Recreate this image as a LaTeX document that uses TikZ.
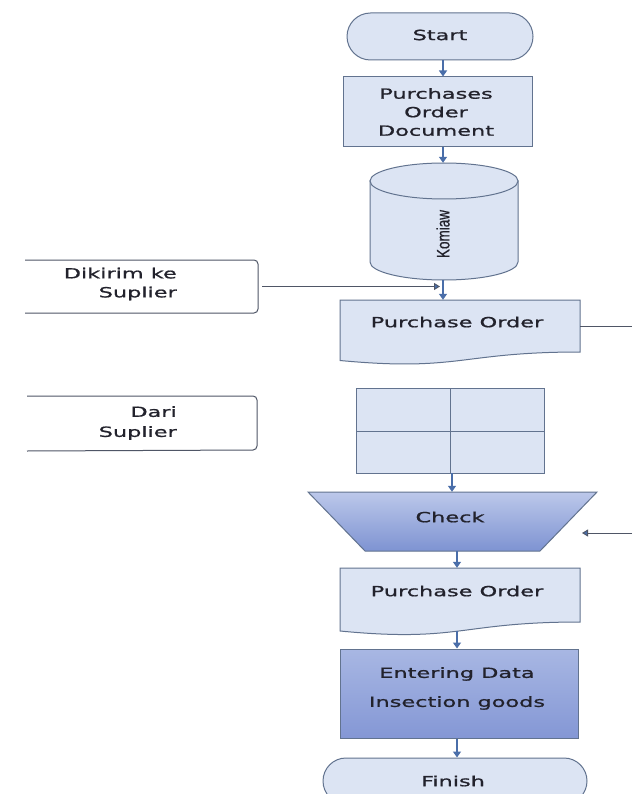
\documentclass[tikz,border=0pt]{standalone}
\usepackage{fontspec}
\newfontfamily\wf[FakeStretch=1.6,FakeBold=1]{DejaVu Sans}
\newfontfamily\nf[FakeStretch=0.75,FakeBold=0.6]{Liberation Sans}
\usetikzlibrary{arrows.meta,shapes.misc}
\definecolor{fillb}{HTML}{DCE4F3}
\definecolor{edge}{HTML}{62738F}
\definecolor{arrb}{HTML}{4A6EA9}
\definecolor{txt}{HTML}{22222C}
\definecolor{gtop}{HTML}{BCC8EA}
\definecolor{gbot}{HTML}{7E93D2}
\definecolor{etop}{HTML}{A8B7E3}
\definecolor{ebot}{HTML}{8497D5}
\definecolor{lined}{HTML}{4F5666}
\begin{document}
\begin{tikzpicture}[x=1pt,y=-1pt,
  lbl/.style={font=\wf\fontsize{14}{18.5}\selectfont, text=txt, inner sep=0pt, align=center},
  shp/.style={draw=edge, line width=1pt, fill=fillb},
  pill/.style={shp, rounded rectangle, inner sep=0pt},
  ghost/.style={inner sep=0pt, minimum width=#1},
  arr/.style={draw=arrb, line width=1.3pt, -{Triangle[width=8pt,length=6pt]}},
  conn/.style={draw=lined, line width=0.9pt},
  conntip/.style={conn, -{Triangle[width=7pt,length=6pt,fill=arrb]}},
  offp/.style={draw=lined, line width=1pt, rounded corners=4pt, fill=white}
]
\useasboundingbox[fill=white] (0,0) rectangle (632,794);
\clip (0,0) rectangle (632,794);

% column coordinates
\coordinate (colA) at (443,0);
\coordinate (colB) at (452,0);
\coordinate (colC) at (457,0);

% Start
\node[pill, minimum width=186pt, minimum height=47pt] (start) at (440,36.5) {};
\node[lbl] (startt) at (440,35) {Start};

% Purchases Order Document
\node[shp, minimum width=189pt, minimum height=70pt, inner sep=0pt] (pod) at (437.5,112) {};
\node[lbl] (podt) at (436,112) {Purchases\\Order\\Document};

% Cylinder Komiaw
\path[shp] (370,181) -- (370,262) .. controls (370,271.94) and (403.13,280) .. (444,280)
  .. controls (484.87,280) and (518,271.94) .. (518,262) -- (518,181) -- cycle;
\draw[shp] (444,181) ellipse [x radius=74, y radius=18];
\node[ghost=148pt, minimum height=117pt] (cyl) at (444,221.5) {};
\node[font=\nf\fontsize{18}{20}\selectfont, text=txt, rotate=90, inner sep=0pt] (cylt) at (443,234) {Komiaw};

% Purchase Order 1 (document)
\draw[shp] (340,300) -- (580,300) -- (580,352) .. controls (460,352) and (460,371.8) .. (340,360.5) -- cycle;
\node[ghost=240pt, minimum height=62pt] (po1) at (460,331) {};
\node[lbl] (po1t) at (457,322) {Purchase Order};

% Dikirim ke Suplier
\draw[offp] (25,260) -- (258,260) -- (258,313) -- (25,313);
\node[ghost=233pt, minimum height=53pt] (dik) at (141.5,286.5) {};
\node[lbl, align=right, anchor=east, font=\wf\fontsize{14}{19}\selectfont] (dikt) at (177,284) {Dikirim ke\\Suplier};

% Dari Suplier
\draw[offp] (27,396) -- (257,396) -- (257,450) -- (27,451);
\node[ghost=230pt, minimum height=55pt] (dari) at (142,423) {};
\node[lbl, align=right, anchor=east, font=\wf\fontsize{14}{20}\selectfont] (darit) at (177,423) {Dari\\Suplier};

% Grid (internal storage)
\draw[shp] (356,388) rectangle (544,473);
\draw[draw=edge, line width=1pt] (450,388) -- (450,473) (356,431) -- (544,431);
\node[ghost=188pt, minimum height=85pt] (grid) at (450,430.5) {};

% Check (manual operation)
\path[top color=gtop, bottom color=gbot, draw=edge, line width=1pt]
  (308,492) -- (597,492) -- (540,551) -- (365,551) -- cycle;
\node[ghost=289pt, minimum height=59pt] (check) at (452.5,521.5) {};
\node[lbl] (checkt) at (450,517) {Check};

% Purchase Order 2 (document)
\draw[shp] (340,568) -- (580,568) -- (580,622) .. controls (460,622) and (460,642.6) .. (340,631) -- cycle;
\node[ghost=240pt, minimum height=63pt] (po2) at (460,599.5) {};
\node[lbl] (po2t) at (457,591) {Purchase Order};

% Entering Data
\node[draw=edge, line width=1pt, top color=etop, bottom color=ebot, minimum width=238pt, minimum height=89pt, inner sep=0pt] (enter) at (459,693.5) {};
\node[lbl, font=\wf\fontsize{14}{29}\selectfont] (entert) at (457,688.5) {Entering Data\\Insection goods};

% Finish
\node[pill, minimum width=264pt, minimum height=46pt] (finish) at (455,781) {};
\node[lbl] (finisht) at (453,781) {Finish};

% vertical arrows
\draw[arr] (colA |- start.south) -- (colA |- pod.north);
\draw[arr] (colA |- pod.south) -- (colA |- cyl.north);
\draw[arr] (colA |- cyl.south) -- (colA |- po1.north);
\draw[arr] (colB |- grid.south) -- (colB |- check.north);
\draw[arr] (colC |- check.south) -- (colC |- po2.north);
\draw[arr] (colC |- po2.south) -- (colC |- enter.north);
\draw[arr] (colC |- enter.south) -- (colC |- finish.north);

% side connectors
\coordinate (r1) at (632,326);
\coordinate (r2) at (632,533);
\coordinate (r2e) at (582,533);
\draw[conntip] ([xshift=4pt]dik.east) -- ([xshift=-3pt]colA |- dik.east);
\draw[conn] (po1.east |- r1) -- (r1);
\draw[conntip] (r2) -- (r2e);
\end{tikzpicture}
\end{document}
